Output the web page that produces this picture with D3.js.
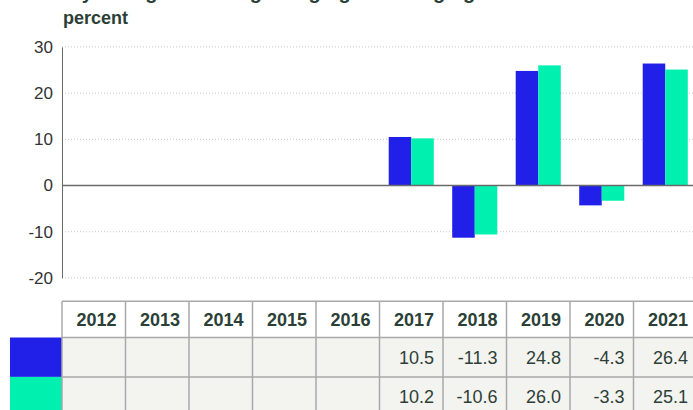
<!DOCTYPE html>
<html><head><meta charset="utf-8">
<script src="https://cdn.jsdelivr.net/npm/d3@7"></script>
<style>
html,body{margin:0;padding:0;background:#fff;}
svg{display:block;font-family:"Liberation Sans",Arial,sans-serif;}
</style></head>
<body><svg id="chart" width="693" height="410"></svg>
<script>
const titleText = "Yearly change in average lodging and hedging costs";
const unitLabel = "percent";
const years = ["2012","2013","2014","2015","2016","2017","2018","2019","2020","2021"];
const seriesA = [null,null,null,null,null,10.5,-11.3,24.8,-4.3,26.4];
const seriesB = [null,null,null,null,null,10.2,-10.6,26.0,-3.3,25.1];
const seriesNames = ["A","B"];
const seriesColors = ["#2020e8","#00f0b0"];
const yTicks = [-20,-10,0,10,20,30];

const svg = d3.select("#chart");
const textColor = "#2b3f37";
const left = 62, right = 697;

const y = d3.scaleLinear().domain([-20,30]).range([277.9,46.9]);
const xCol = d3.scaleBand().domain(years).range([left,right]).padding(0);
const x0 = d3.scaleBand().domain(years).range([left,right]).paddingInner(0.29).paddingOuter(0.145);
const x1 = d3.scaleBand().domain(seriesNames).range([0,x0.bandwidth()]);
const fmt = v => v.toFixed(1);

// title (cut off at top, as in the reference)
svg.append("text").attr("x",34).attr("y",-1.5).attr("font-size",20).attr("font-weight","bold")
  .attr("fill",textColor).text(titleText);
svg.append("text").attr("x",63).attr("y",24).attr("font-size",18).attr("font-weight","bold")
  .attr("fill",textColor).text(unitLabel);

// gridlines
svg.append("g").selectAll("line").data(yTicks.filter(d=>d!==0)).join("line")
  .attr("x1",left).attr("x2",right).attr("y1",d=>y(d)).attr("y2",d=>y(d))
  .attr("stroke","#c8c8c8").attr("stroke-width",1).attr("stroke-dasharray","1,2");

// y axis
const ya = svg.append("g").attr("transform",`translate(${left},0)`)
  .call(d3.axisLeft(y).tickValues(yTicks).tickSize(0).tickPadding(9).tickFormat(d=>String(d)));
ya.select(".domain").attr("stroke","#6a6a6a").attr("stroke-width",1);
ya.selectAll("text").attr("font-size",17).attr("fill","#333").attr("font-family","Liberation Sans, Arial, sans-serif");

// bars
const data = years.map((yr,i)=>({yr, vals:[seriesA[i],seriesB[i]]}));
const g = svg.append("g");
g.selectAll("g").data(data).join("g")
  .attr("transform",d=>`translate(${x0(d.yr)},0)`)
  .selectAll("rect").data(d=>d.vals.map((v,j)=>({v,s:seriesNames[j],c:seriesColors[j]})).filter(e=>e.v!==null))
  .join("rect")
  .attr("x",e=>x1(e.s)).attr("width",x1.bandwidth())
  .attr("y",e=>y(Math.max(0,e.v))).attr("height",e=>Math.abs(y(e.v)-y(0)))
  .attr("fill",e=>e.c);

// zero line
svg.append("line").attr("x1",left).attr("x2",right).attr("y1",y(0)).attr("y2",y(0))
  .attr("stroke","#6a6a6a").attr("stroke-width",1.5);

// table
const rowTop = 301.3, headH = 36.2, rowH = 39.4;
const rows = [seriesA, seriesB];
const tbl = svg.append("g");
tbl.append("rect").attr("x",left).attr("y",rowTop+headH).attr("width",right-left).attr("height",rowH*2+10).attr("fill","#f3f3ef");
rows.forEach((r,i)=>{
  tbl.append("rect").attr("x",10).attr("y",rowTop+headH+i*rowH).attr("width",left-10).attr("height",rowH).attr("fill",seriesColors[i]);
});
const hLines = [rowTop, rowTop+headH, rowTop+headH+rowH];
tbl.selectAll("line.h").data(hLines).join("line").attr("class","h")
  .attr("x1",left).attr("x2",right+5).attr("y1",d=>d).attr("y2",d=>d)
  .attr("stroke","#a8a8a8").attr("stroke-width",1.5);
tbl.selectAll("line.v").data(years.concat(["end"])).join("line").attr("class","v")
  .attr("x1",d=>d==="end"?right:xCol(d)).attr("x2",d=>d==="end"?right:xCol(d))
  .attr("y1",rowTop).attr("y2",420)
  .attr("stroke","#a8a8a8").attr("stroke-width",1.5);
tbl.selectAll("text.hd").data(years).join("text").attr("class","hd")
  .attr("x",d=>xCol(d)+xCol.bandwidth()-9).attr("y",rowTop+headH/2+6.5)
  .attr("text-anchor","end").attr("font-size",18).attr("font-weight","bold").attr("fill",textColor).text(d=>d);
rows.forEach((r,i)=>{
  tbl.append("g").selectAll("text").data(years.map((yr,k)=>({yr,v:r[k]})).filter(d=>d.v!==null)).join("text")
    .attr("x",d=>xCol(d.yr)+xCol.bandwidth()-9).attr("y",rowTop+headH+i*rowH+rowH/2+6.5)
    .attr("text-anchor","end").attr("font-size",18).attr("fill","#2e3f38").text(d=>fmt(d.v));
});
</script></body></html>
